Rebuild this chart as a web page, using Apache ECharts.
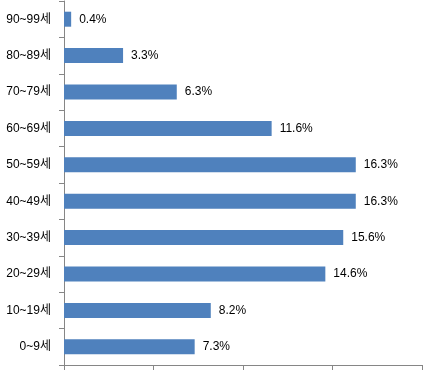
<!DOCTYPE html>
<html><head><meta charset="utf-8">
<script src="https://cdn.jsdelivr.net/npm/echarts@6/dist/echarts.min.js"></script>
<style>html,body{margin:0;padding:0;background:#fff}#c{width:446px;height:375px}</style>
</head><body><div id="c"></div>
<script>
const categories = ['0~9세','10~19세','20~29세','30~39세','40~49세','50~59세','60~69세','70~79세','80~89세','90~99세'];
const values = [7.3, 8.2, 14.6, 15.6, 16.3, 16.3, 11.6, 6.3, 3.3, 0.4];
const axisMin = 0, axisMax = 20, axisStep = 5;

const font = "'Liberation Sans', 'Noto Sans CJK KR', sans-serif";
const chart = echarts.init(document.getElementById('c'), null, {renderer:'canvas'});
chart.setOption({
  animation: false,
  grid: {left: 64, right: 24, top: 1, bottom: 10, containLabel: false},
  xAxis: {
    type: 'value', min: axisMin, max: axisMax, interval: axisStep,
    axisLine: {show: true, lineStyle: {color: '#868686', width: 1}},
    axisTick: {show: true, length: 5, lineStyle: {color: '#868686'}},
    axisLabel: {show: false},
    splitLine: {show: false}
  },
  yAxis: {
    type: 'category', data: categories,
    axisLine: {show: true, lineStyle: {color: '#868686', width: 1}},
    axisTick: {show: true, length: 5, lineStyle: {color: '#868686'}},
    axisLabel: {color: '#000', fontSize: 12, fontFamily: font, margin: 13}
  },
  series: [{
    type: 'bar', data: values, barWidth: 15,
    itemStyle: {color: '#4F81BD'},
    label: {show: true, position: 'right', distance: 8, color: '#000', fontSize: 12, fontFamily: font,
      formatter: p => p.value.toFixed(1) + '%'}
  }]
});
</script></body></html>
